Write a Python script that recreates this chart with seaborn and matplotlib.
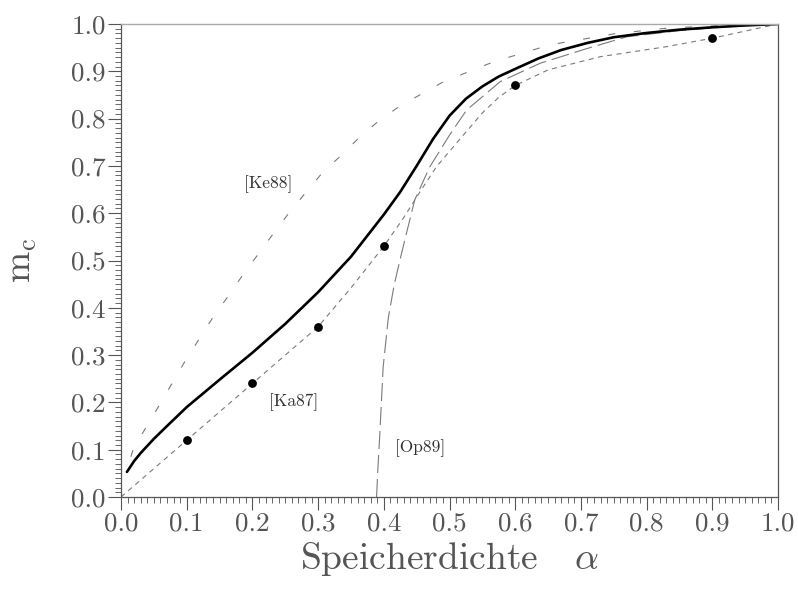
import matplotlib
matplotlib.use("Agg")
import matplotlib.pyplot as plt
from matplotlib.ticker import MultipleLocator, FixedLocator
import seaborn as sns
import pandas as pd

# ---------------- data ----------------
alpha_theory = [0.009, 0.02, 0.03, 0.05, 0.07, 0.10, 0.15, 0.20, 0.25, 0.30, 0.35, 0.40,
                0.425, 0.45, 0.475, 0.50, 0.525, 0.55, 0.575, 0.60, 0.635, 0.67,
                0.71, 0.75, 0.80, 0.85, 0.90, 0.95, 1.00]
m_theory = [0.053, 0.076, 0.093, 0.123, 0.150, 0.190, 0.248, 0.305, 0.366, 0.433, 0.508, 0.597,
            0.645, 0.700, 0.757, 0.806, 0.842, 0.868, 0.889, 0.905, 0.927, 0.945,
            0.960, 0.972, 0.981, 0.988, 0.993, 0.997, 1.000]

alpha_ka87 = [0.0, 0.10, 0.20, 0.30, 0.35, 0.40, 0.43, 0.455, 0.48, 0.516, 0.55,
              0.575, 0.60, 0.65, 0.73, 0.83, 0.90, 1.00]
m_ka87 = [0.0, 0.12, 0.24, 0.36, 0.442, 0.53, 0.59, 0.645, 0.698, 0.757, 0.812,
          0.845, 0.87, 0.903, 0.931, 0.952, 0.970, 1.000]

alpha_ke88 = [0.015, 0.019, 0.054, 0.097, 0.1405, 0.166, 0.189, 0.212, 0.234, 0.257,
              0.282, 0.308, 0.336, 0.364, 0.394, 0.425, 0.491, 0.567, 0.653,
              0.754, 0.830, 0.900, 1.000]
m_ke88 = [0.085, 0.103, 0.184, 0.286, 0.381, 0.430, 0.477, 0.519, 0.561, 0.603,
          0.645, 0.688, 0.723, 0.762, 0.797, 0.827, 0.878, 0.920, 0.956,
          0.980, 0.991, 0.996, 1.000]

alpha_op89 = [0.389, 0.391, 0.394, 0.399, 0.407, 0.416, 0.427, 0.447, 0.470, 0.500,
              0.526, 0.577, 0.638, 0.709, 0.770, 0.850, 0.920, 1.000]
m_op89 = [0.0, 0.06, 0.135, 0.275, 0.38, 0.45, 0.515, 0.628, 0.698, 0.765,
          0.818, 0.878, 0.917, 0.948, 0.973, 0.986, 0.994, 1.000]

alpha_sim = [0.1, 0.2, 0.3, 0.4, 0.6, 0.9]
m_sim = [0.12, 0.24, 0.36, 0.53, 0.87, 0.97]

tick_values = [0.0, 0.1, 0.2, 0.3, 0.4, 0.5, 0.6, 0.7, 0.8, 0.9, 1.0]
tick_labels = ["0.0", "0.1", "0.2", "0.3", "0.4", "0.5", "0.6", "0.7", "0.8", "0.9", "1.0"]

annotations = ["[Ke88]", "[Ka87]", "[Op89]"]
annot_x = [0.224, 0.262, 0.455]
annot_y = [0.662, 0.201, 0.104]

# ---------------- style ----------------
sns.set_style("ticks")
plt.rcParams["font.family"] = ["cmr10", "DejaVu Serif"]
plt.rcParams["mathtext.fontset"] = "cm"
plt.rcParams["axes.formatter.use_mathtext"] = True
plt.rcParams["axes.unicode_minus"] = False
plt.rcParams["lines.scale_dashes"] = False

fig = plt.figure(figsize=(7.98, 5.90), dpi=100)
ax = fig.add_axes([121 / 798, 1 - 497 / 590, 657 / 798, 473 / 590])

gray = "#7a7a7a"

df_ke = pd.DataFrame({"a": alpha_ke88, "m": m_ke88})
sns.lineplot(data=df_ke, x="a", y="m", ax=ax, sort=False, estimator=None,
             color=gray, linewidth=0.8, linestyle=(0, (5.0, 13.5)))

df_ka = pd.DataFrame({"a": alpha_ka87, "m": m_ka87})
sns.lineplot(data=df_ka, x="a", y="m", ax=ax, sort=False, estimator=None,
             color=gray, linewidth=0.8, linestyle=(0, (3.6, 3.2)))

df_op = pd.DataFrame({"a": alpha_op89, "m": m_op89})
sns.lineplot(data=df_op, x="a", y="m", ax=ax, sort=False, estimator=None,
             color=gray, linewidth=0.8, linestyle=(0, (13.0, 4.3)))

df_th = pd.DataFrame({"a": alpha_theory, "m": m_theory})
sns.lineplot(data=df_th, x="a", y="m", ax=ax, sort=False, estimator=None,
             color="black", linewidth=1.9)

df_sim = pd.DataFrame({"a": alpha_sim, "m": m_sim})
sns.scatterplot(data=df_sim, x="a", y="m", ax=ax, color="black", s=40,
                edgecolor="black", linewidth=0, zorder=5)

for t, x, y in zip(annotations, annot_x, annot_y):
    ax.text(x, y, t, fontsize=12.5, color="#333333", ha="center", va="center")

ax.set_xlim(0, 1)
ax.set_ylim(0, 1)
ax.xaxis.set_major_locator(FixedLocator(tick_values))
ax.yaxis.set_major_locator(FixedLocator(tick_values))
ax.set_xticklabels(tick_labels)
ax.set_yticklabels(tick_labels)
ax.xaxis.set_minor_locator(MultipleLocator(0.01))
ax.yaxis.set_minor_locator(MultipleLocator(0.01))

ax.tick_params(which="major", direction="out", length=9.4, width=0.8,
               color="#555555", labelsize=19.5, labelcolor="#555555", pad=1.5,
               top=False, right=False)
ax.tick_params(which="minor", direction="out", length=4.3, width=0.7,
               color="#666666", top=False, right=False)

for side in ["left", "bottom"]:
    ax.spines[side].set_color("#555555")
    ax.spines[side].set_linewidth(0.9)
ax.spines["top"].set_color("#aaaaaa")
ax.spines["top"].set_linewidth(1.0)
ax.spines["right"].set_color("#555555")
ax.spines["right"].set_linewidth(0.9)
ax.spines["top"].set_visible(True)
ax.spines["right"].set_visible(True)

ax.set_xlabel(r"Speicherdichte   $\alpha$", fontsize=27, color="#555555")
ax.set_ylabel(r"$\mathrm{m}_\mathrm{c}$", fontsize=27, color="#555555")
ax.xaxis.set_label_coords(0.5, -0.09)
ax.yaxis.set_label_coords(-0.15, 0.5)
ax.xaxis.label.set_va("top")
ax.yaxis.label.set_va("center")

fig.savefig("out.png", dpi=100)
